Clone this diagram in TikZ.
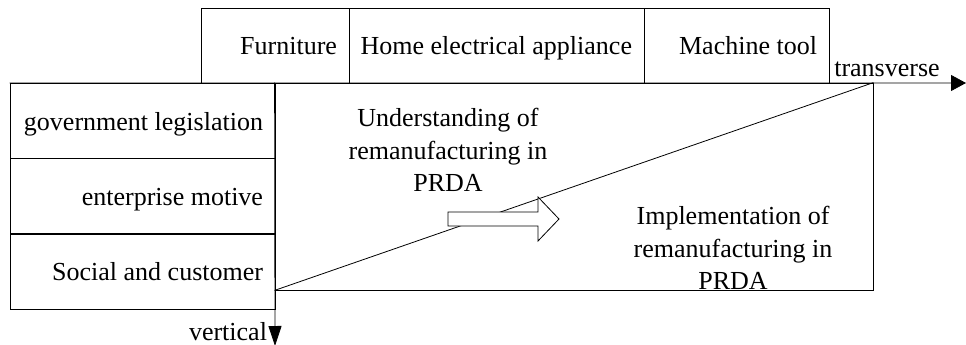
\documentclass[tikz,border=0pt]{standalone}
\usepackage{fontspec}
\setmainfont{Liberation Serif}
\usetikzlibrary{arrows.meta}

\tikzset{
  cell/.style={draw, minimum height=75pt, inner sep=0pt},
  celltext/.style={anchor=base east, inner sep=0pt, xshift=-12pt, yshift=-9pt},
}

\begin{document}
\begin{tikzpicture}[x=1pt, y=-1pt, line width=0.8pt, font=\fontsize{26}{32.5}\selectfont]

\useasboundingbox (0,0) rectangle (966,345);

% Industries (top row)
\foreach \nm/\xc/\w/\txt in {furn/275/148/Furniture,
    home/496.5/295/Home electrical appliance, mach/736.5/185/Machine tool} {
  \node[cell, minimum width=\w pt, label={[celltext]east:\txt}]
    (\nm) at (\xc, 45.5) {};
}

% Driving forces (left column)
\foreach \nm/\yc/\txt in {gov/121/government legislation,
    ent/196.3/enterprise motive, soc/271.5/Social and customer} {
  \node[cell, minimum width=265pt, minimum height=75.3pt,
    label={[celltext]east:\txt}] (\nm) at (142.5, \yc) {};
}

% Field and its diagonal
\node[draw, minimum width=598pt, minimum height=207pt, inner sep=0pt]
  (field) at (574, 186.5) {};
\draw (field.south west) -- (field.north east);

\node[align=center] (underst) at (448, 150)
  {Understanding of\\remanufacturing in\\PRDA};
\node[align=center] (implem) at (733, 248)
  {Implementation of\\remanufacturing in\\PRDA};

% Hollow arrow
\draw[fill=white] (448, 212) -- ++(90, 0) -- ++(0, -15) -- ++(21, 22)
  -- ++(-21, 22) -- ++(0, -15) -- ++(-90, 0) -- cycle;

% Axes
\coordinate (xend) at (966, 83);
\coordinate (yend) at (275, 346);
\draw[-{Triangle[length=15pt, width=16pt]}] (gov.north west) -- (xend);
\draw[-{Triangle[length=20pt, width=13pt]}] (field.north west) -- (yend);
\node[anchor=base, inner sep=0pt] (trans) at (887, 76) {transverse};
\node[anchor=base, inner sep=0pt] (vert) at (228, 340) {vertical};

\end{tikzpicture}
\end{document}
